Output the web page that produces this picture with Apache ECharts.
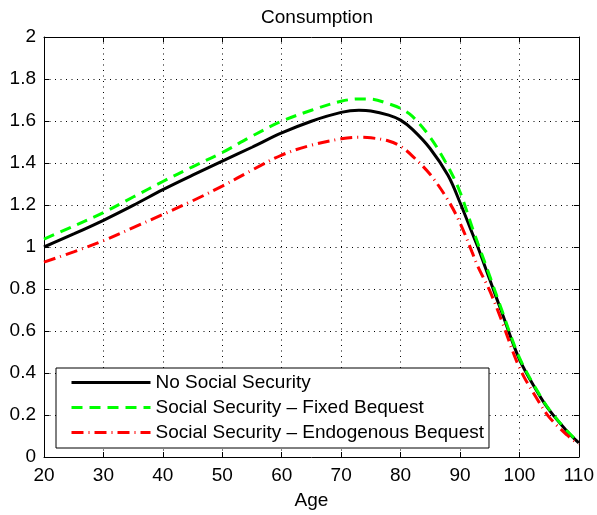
<!DOCTYPE html>
<html>
<head>
<meta charset="utf-8">
<script src="https://cdn.jsdelivr.net/npm/echarts@6/dist/echarts.min.js"></script>
<style>
html,body{margin:0;padding:0;background:#fff;}
#chart{width:597px;height:515px;}
</style>
</head>
<body>
<div id="chart"></div>
<script>
const ages = [20,25,30,35,40,45,50,55,60,65,70,73,75,78,80,82,85,88,90,92,93,95,97,100,103,105,108,110];
const noSocialSecurity = [1.000,1.062,1.127,1.198,1.273,1.342,1.409,1.475,1.543,1.599,1.641,1.651,1.648,1.628,1.604,1.560,1.468,1.340,1.212,1.070,1.000,0.845,0.692,0.465,0.311,0.224,0.123,0.067];
const ssFixedBequest = [1.038,1.100,1.164,1.238,1.312,1.382,1.450,1.528,1.599,1.651,1.694,1.705,1.704,1.682,1.660,1.622,1.522,1.382,1.262,1.098,1.018,0.862,0.702,0.473,0.315,0.227,0.125,0.068];
const ssEndogenousBequest = [0.928,0.977,1.030,1.092,1.155,1.220,1.290,1.366,1.438,1.485,1.515,1.523,1.520,1.505,1.480,1.433,1.345,1.222,1.115,0.978,0.908,0.792,0.650,0.425,0.275,0.190,0.105,0.060];
const seriesNames = ['No Social Security','Social Security \u2013 Fixed Bequest','Social Security \u2013 Endogenous Bequest'];

const zip = ys => ages.map((a,i)=>[a, ys[i]]);
const font = 'Liberation Sans, Arial, Helvetica, sans-serif';
const FS = 19;
const chart = echarts.init(document.getElementById('chart'), null, {renderer:'canvas'});
const axisCommon = {
  axisLine:{show:true, onZero:false, lineStyle:{color:'#000', width:1}},
  axisTick:{show:true, inside:true, length:5, lineStyle:{color:'#000'}},
};
const gridDots = {show:true, lineStyle:{color:'#000', type:[1,4.5], width:1}};
chart.setOption({
  animation:false,
  backgroundColor:'#fff',
  title:{text:'Consumption', left:312, textAlign:'center', top:3, textStyle:{fontSize:FS, fontWeight:'normal', color:'#000', fontFamily:font}},
  grid:{left:44, right:17, top:37, bottom:56, containLabel:false},
  xAxis:[
    Object.assign({type:'value', min:20, max:110, interval:10, position:'bottom',
      name:'Age', nameLocation:'middle', nameGap:34,
      nameTextStyle:{fontSize:FS, color:'#000', fontFamily:font},
      splitLine:gridDots,
      axisLabel:{color:'#000', fontSize:FS, fontFamily:font, margin:9}}, axisCommon),
    Object.assign({type:'value', min:20, max:110, interval:10, position:'top', splitLine:{show:false}, axisLabel:{show:false}}, axisCommon)
  ],
  yAxis:[
    Object.assign({type:'value', min:0, max:2, interval:0.2, position:'left',
      splitLine:gridDots,
      axisLabel:{color:'#000', fontSize:FS, fontFamily:font, margin:8}}, axisCommon),
    Object.assign({type:'value', min:0, max:2, interval:0.2, position:'right', splitLine:{show:false}, axisLabel:{show:false}}, axisCommon)
  ],
  legend:{
    orient:'vertical', left:56, top:368,
    backgroundColor:'#fff', borderColor:'#000', borderWidth:1, borderRadius:0,
    padding:[5,5,6,14], itemGap:6, itemWidth:79, itemHeight:14,
    itemStyle:{opacity:0},
    lineStyle:{width:3},
    textStyle:{fontSize:FS, lineHeight:19, color:'#000', fontFamily:font},
    data:seriesNames
  },
  series:[
    {name:seriesNames[0], type:'line', data:zip(noSocialSecurity), smooth:0.35, showSymbol:false, symbol:'none',
      lineStyle:{color:'#000', width:3}, itemStyle:{color:'#000'}, z:3},
    {name:seriesNames[1], type:'line', data:zip(ssFixedBequest), smooth:0.35, showSymbol:false, symbol:'none',
      lineStyle:{color:'#00ff00', width:3, type:[11,7]}, itemStyle:{color:'#00ff00'}, z:4},
    {name:seriesNames[2], type:'line', data:zip(ssEndogenousBequest), smooth:0.35, showSymbol:false, symbol:'none',
      lineStyle:{color:'#ff0000', width:3, type:[12,5,1,5]}, itemStyle:{color:'#ff0000'}, z:5}
  ]
});
</script>
</body>
</html>
